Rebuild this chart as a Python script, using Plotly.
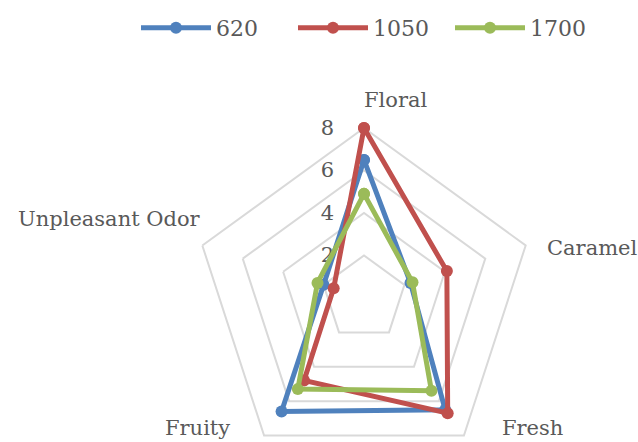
import plotly.graph_objects as go

# Sensory attribute scores for three samples
categories = ["Floral", "Caramel", "Fresh", "Fruity", "Unpleasant Odor"]
series_names = ["620", "1050", "1700"]
scores_620 = [6.5, 2.3, 6.5, 6.6, 2.0]
scores_1050 = [8.0, 4.1, 6.7, 4.8, 1.5]
scores_1700 = [4.9, 2.4, 5.4, 5.3, 2.3]
radial_ticks = [2, 4, 6, 8]

colors = ["#4F81BD", "#C0504D", "#9BBB59"]
FONT = "DejaVu Serif"
GRAY = "#595959"
W, H = 638, 470

fig = go.Figure()
for name, vals, col in zip(series_names, [scores_620, scores_1050, scores_1700], colors):
    fig.add_trace(go.Scatterpolar(
        r=vals + vals[:1],
        theta=categories + categories[:1],
        mode="lines+markers",
        name=name,
        line=dict(color=col, width=5),
        marker=dict(color=col, size=12),
    ))

cx, cy, R = 364, 298, 170  # polar centre and outer radius in pixels
fig.update_layout(
    width=W, height=H,
    margin=dict(l=0, r=0, t=0, b=0),
    paper_bgcolor="white",
    font=dict(family=FONT, color=GRAY, size=21),
    showlegend=True,
    legend=dict(orientation="h", x=136 / W, xanchor="left", y=1 - 28 / H, yanchor="middle",
                font=dict(size=22, color=GRAY), itemwidth=70, entrywidth=72,
                bgcolor="rgba(0,0,0,0)"),
    polar=dict(
        domain=dict(x=[(cx - R) / W, (cx + R) / W], y=[1 - (cy + R) / H, 1 - (cy - R) / H]),
        bgcolor="white",
        gridshape="linear",
        radialaxis=dict(range=[0, 8], tickvals=radial_ticks, angle=90, tickangle=90,
                        side="counterclockwise", showline=False, ticks="outside", ticklen=22,
                        tickcolor="rgba(0,0,0,0)", gridcolor="#D9D9D9", gridwidth=2,
                        layer="below traces", tickfont=dict(size=21, color=GRAY)),
        angularaxis=dict(direction="clockwise", rotation=90, showgrid=False,
                         showline=True, linecolor="#D9D9D9", linewidth=2,
                         showticklabels=False, ticks="", layer="below traces"),
    ),
)

# Category captions around the pentagon
label_pos = {
    "Floral": (362, 100, "left"),
    "Caramel": (545, 248, "left"),
    "Fresh": (500, 428, "left"),
    "Fruity": (232, 428, "right"),
    "Unpleasant Odor": (203, 219, "right"),
}
for cat in categories:
    px, py, anchor = label_pos[cat]
    fig.add_annotation(text=cat, x=px / W, y=1 - py / H, xref="paper", yref="paper",
                       xanchor=anchor, yanchor="middle", showarrow=False,
                       font=dict(size=21, color=GRAY, family=FONT))

fig.write_html("out.html", post_script="document.documentElement.style.overflow='hidden';document.body.style.overflow='hidden';")
